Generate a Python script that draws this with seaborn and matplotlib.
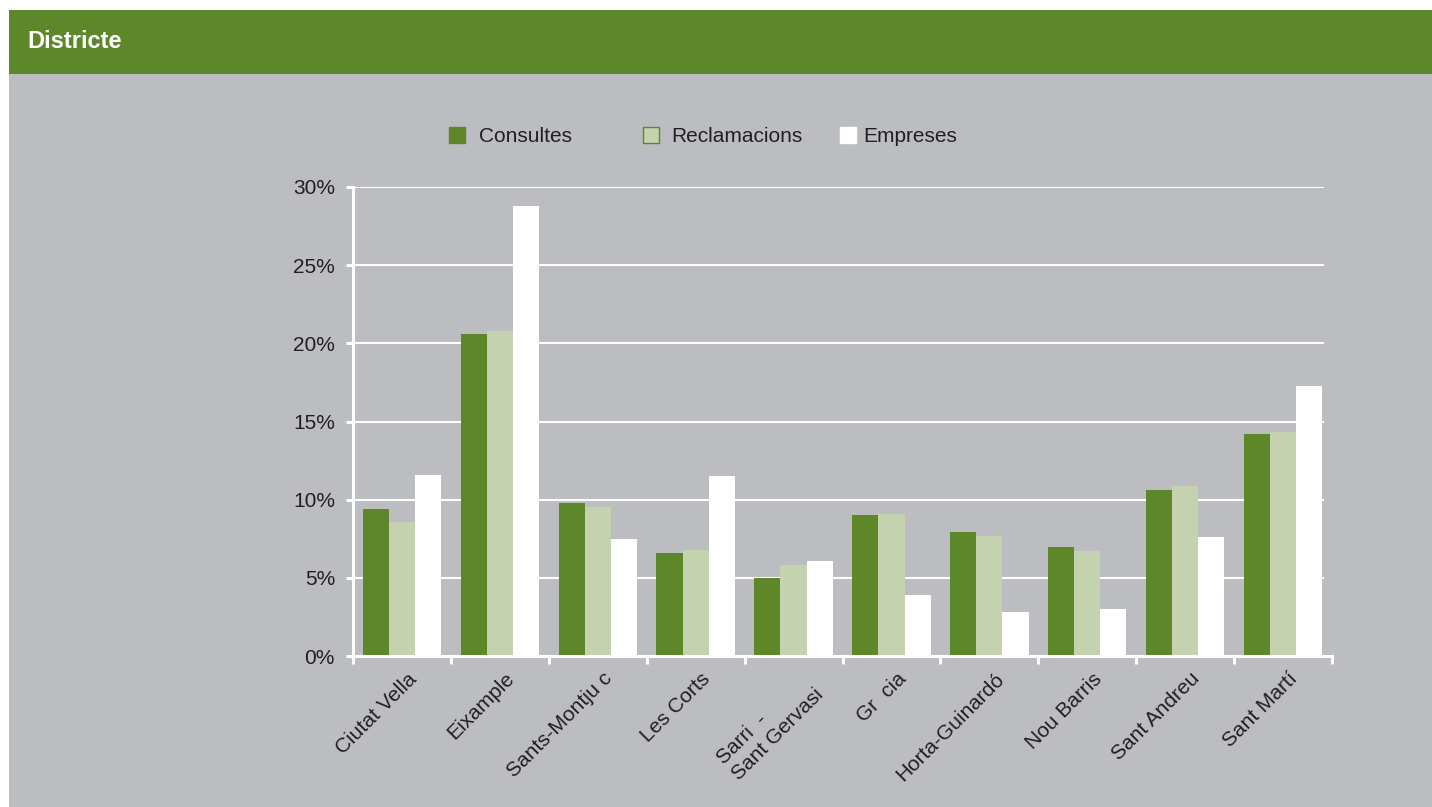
import matplotlib
matplotlib.use("Agg")
import matplotlib.pyplot as plt
import matplotlib.transforms as mtransforms
from matplotlib.patches import Rectangle, Patch
from matplotlib.ticker import FixedLocator, FuncFormatter
import numpy as np
import pandas as pd
import seaborn as sns

# ---- data -------------------------------------------------------------
districts = ["Ciutat Vella", "Eixample", "Sants-Montju c", "Les Corts",
             "Sarri  -\nSant Gervasi", "Gr  cia", "Horta-Guinardó",
             "Nou Barris", "Sant Andreu", "Sant Martí"]
consultes = [9.4, 20.6, 9.8, 6.6, 5.0, 9.0, 7.9, 7.0, 10.6, 14.2]
reclamacions = [8.6, 20.8, 9.5, 6.8, 5.8, 9.1, 7.7, 6.7, 10.9, 14.3]
empreses = [11.6, 28.8, 7.5, 11.5, 6.1, 3.9, 2.8, 3.0, 7.6, 17.3]
series = ["Consultes", "Reclamacions", "Empreses"]
y_ticks = [0, 5, 10, 15, 20, 25, 30]
title = "Districte"

# ---- style ------------------------------------------------------------
GREEN = "#5d8728"
LIGHT = "#c4d2b0"
WHITE = "#ffffff"
GRAY = "#bcbdc1"
TEXT = "#231f20"
FS = 15
palette = dict(zip(series, [GREEN, LIGHT, WHITE]))

plt.rcParams["font.family"] = ["Liberation Sans", "DejaVu Sans"]

df = pd.DataFrame({
    "Districte": districts * len(series),
    "Serie": np.repeat(series, len(districts)),
    "Percentatge": consultes + reclamacions + empreses,
})

W, H = 1432, 807
fig = plt.figure(figsize=(W / 100, H / 100), dpi=100, facecolor="white")

# grey panel and green header band, kept beneath the axes
fig.patches.append(Rectangle((9 / W, 0), 1 - 9 / W, (H - 74) / H,
                             transform=fig.transFigure, facecolor=GRAY,
                             edgecolor="none", zorder=-2))
fig.patches.append(Rectangle((9 / W, (H - 74) / H), 1 - 9 / W, 64 / H,
                             transform=fig.transFigure, facecolor=GREEN,
                             edgecolor="none", zorder=-2))
fig.text(27 / W, 1 - 42 / H, title, color="white", fontsize=17,
         fontweight="bold", ha="left", va="center")

ax = fig.add_axes([353 / W, 1 - 656 / H, (1332 - 353) / W, (656 - 187) / H])
ax.set_zorder(1)
ax.set_facecolor("none")

# horizontal guide lines behind the bars
for y in y_ticks[1:]:
    ax.axhline(y, xmin=0, xmax=(1323 - 353) / (1332 - 353), color="white",
               lw=1.5, zorder=0.5)

sns.barplot(data=df, x="Districte", y="Percentatge", hue="Serie",
            order=districts, hue_order=series, palette=palette,
            width=0.8, linewidth=0, saturation=1, errorbar=None,
            legend=False, ax=ax, zorder=2)

ax.set_xlim(-0.5, len(districts) - 0.5)
ax.set_ylim(0, 30)
ax.set_xlabel("")
ax.set_ylabel("")

for side in ("top", "right"):
    ax.spines[side].set_visible(False)
for side in ("left", "bottom"):
    ax.spines[side].set_color("white")
    ax.spines[side].set_linewidth(2.2)
    ax.spines[side].set_zorder(3)

ax.yaxis.set_major_locator(FixedLocator(y_ticks))
ax.yaxis.set_major_formatter(FuncFormatter(lambda v, _: f"{v:.0f}%"))
ax.tick_params(axis="y", colors="white", length=5, width=2.2, pad=8,
               labelcolor=TEXT, labelsize=FS)

ax.set_xticks(range(len(districts)))
ax.set_xticklabels(districts, rotation=45, ha="right", va="top",
                   rotation_mode="anchor", multialignment="left",
                   color=TEXT, fontsize=FS)
ax.xaxis.set_minor_locator(FixedLocator(np.arange(-0.5, len(districts), 1.0)))
ax.tick_params(axis="x", which="major", length=0, pad=9.5)
ax.tick_params(axis="x", which="minor", colors="white", length=6, width=2.2)

# rotated category labels sit slightly right of each group's centre
nudge = mtransforms.ScaledTranslation(5 / 100, 0, fig.dpi_scale_trans)
for lbl in ax.get_xticklabels():
    lbl.set_transform(lbl.get_transform() + nudge)

# legend entries placed individually along the top
legend_specs = [
    ("Consultes", GREEN, GREEN, 449, 0.68),
    ("Reclamacions", LIGHT, GREEN, 643, 0.6),
    ("Empreses", WHITE, WHITE, 840, 0.36),
]
for name, face, edge, x0, tpad in legend_specs:
    handle = Patch(facecolor=face, edgecolor=edge, linewidth=1)
    fig.legend(handles=[handle], labels=[name], loc="center left",
               bbox_to_anchor=(x0 / W, 1 - 136.5 / H), frameon=False,
               handlelength=0.77, handleheight=0.77, handletextpad=tpad,
               borderpad=0, borderaxespad=0, fontsize=FS,
               labelcolor=TEXT)

fig.savefig("out.png", dpi=100, facecolor=fig.get_facecolor())
